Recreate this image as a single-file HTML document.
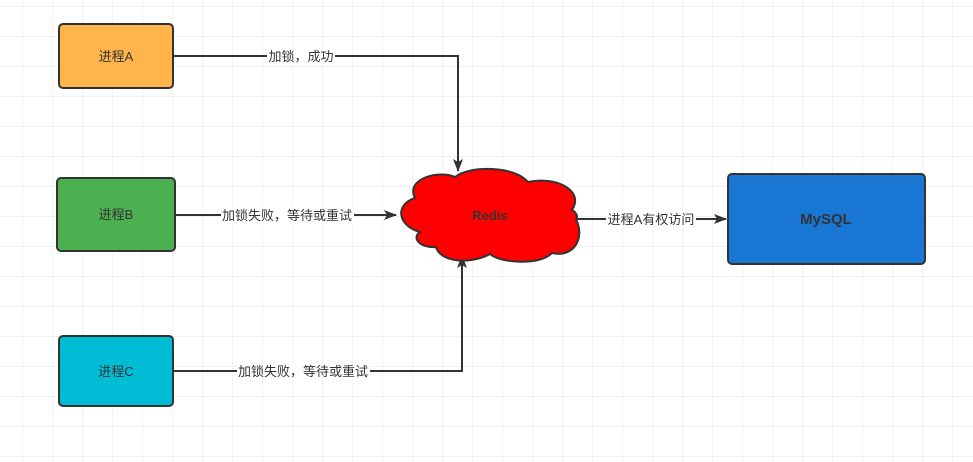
<!DOCTYPE html>
<html><head><meta charset="utf-8"><style>
html,body{margin:0;padding:0;background:#fff;}
svg{display:block;}
text{font-family:"Liberation Sans","Noto Sans CJK SC",sans-serif;}
</style></head><body>
<svg width="973" height="462" viewBox="0 0 973 462" xmlns="http://www.w3.org/2000/svg">
<defs>
<pattern id="g" x="22" y="6" width="30" height="30" patternUnits="userSpaceOnUse">
<path d="M0 0H30M0 0V30" stroke="#e6e6e6" stroke-width="1" fill="none"/>
</pattern>
<marker id="ar" markerWidth="13" markerHeight="10" refX="12" refY="5" orient="auto" markerUnits="userSpaceOnUse">
<path d="M0 0L13 5L0 10L3 5Z" fill="#333"/>
</marker>
</defs>
<rect width="973" height="462" fill="url(#g)"/>
<g stroke="#333" stroke-width="2" fill="none">
<path d="M174 56H458V171" marker-end="url(#ar)"/>
<path d="M176 215H396" marker-end="url(#ar)"/>
<path d="M174 371H462V256" marker-end="url(#ar)"/>
<path d="M577 219H726" marker-end="url(#ar)"/>
</g>
<g font-size="13" fill="#333" text-anchor="middle">
<rect x="267" y="48" width="68" height="17" fill="#fff"/><text x="301" y="61">加锁，成功</text>
<rect x="221" y="207" width="133" height="17" fill="#fff"/><text x="287" y="220">加锁失败，等待或重试</text>
<rect x="237" y="363" width="133" height="17" fill="#fff"/><text x="303" y="376">加锁失败，等待或重试</text>
<rect x="606" y="211" width="90" height="17" fill="#fff"/><text x="651" y="224">进程A有权访问</text>
</g>
<g stroke="#333" stroke-width="2">
<rect x="59" y="24" width="114" height="64" rx="4" fill="#ffb54c"/>
<rect x="57" y="178" width="118" height="73" rx="4" fill="#4caf50"/>
<rect x="59" y="336" width="114" height="70" rx="4" fill="#00bcd4"/>
<rect x="728" y="174" width="197" height="90" rx="4" fill="#1976d2"/>
<path d="M415 198 C405 178,440 170,455 177 C470 165,515 166,528 182 C555 176,585 190,572 210 C577 213,578 217,576 219 C586 240,572 258,552 253 C540 266,500 263,490 254 C470 265,440 262,436 247 C418 248,412 237,420 232 C398 226,394 205,415 198 Z" fill="#ff0000"/>
</g>
<g font-size="13" fill="#333" text-anchor="middle">
<text x="116" y="61">进程A</text>
<text x="116" y="219">进程B</text>
<text x="116" y="376">进程C</text>
</g>
<text x="490" y="220" font-size="13" font-weight="bold" fill="#333" text-anchor="middle">Redis</text>
<text x="826" y="224" font-size="15" font-weight="bold" fill="#333" text-anchor="middle">MySQL</text>
</svg>
</body></html>
